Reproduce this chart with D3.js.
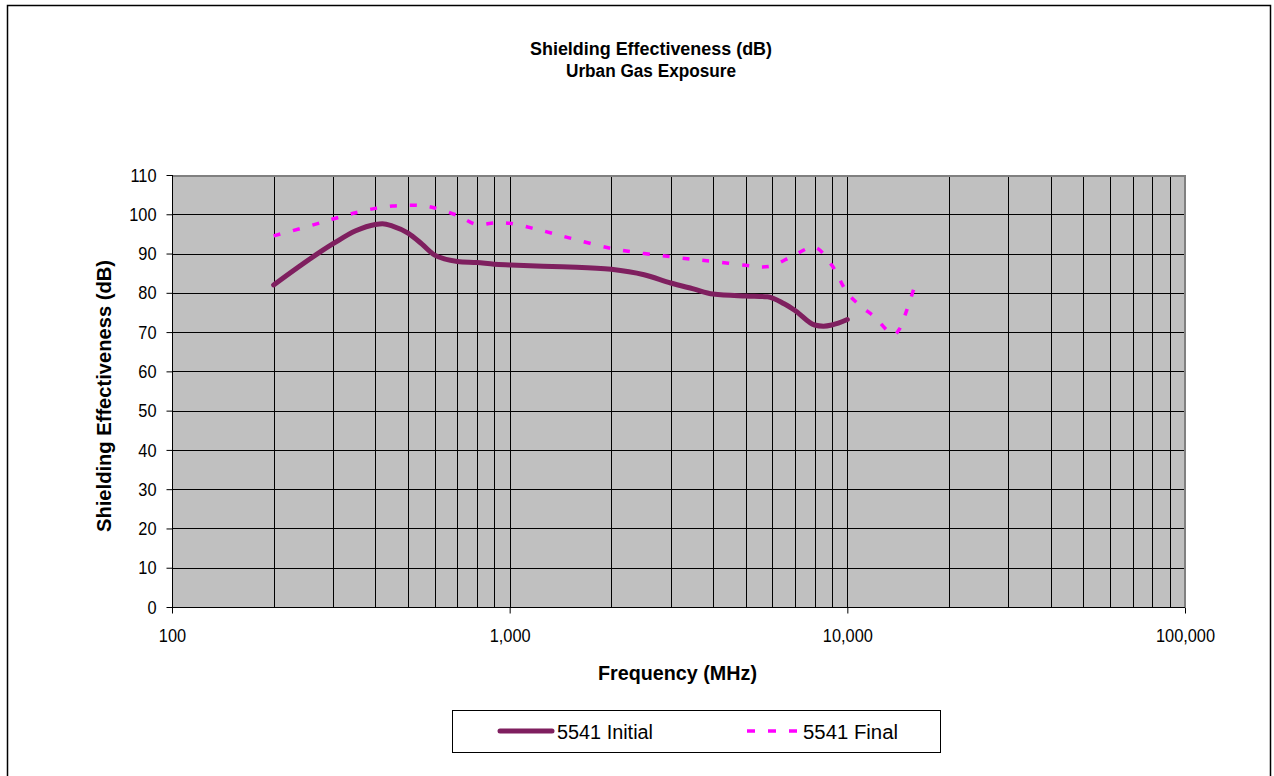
<!DOCTYPE html>
<html>
<head>
<meta charset="utf-8">
<script src="https://cdn.jsdelivr.net/npm/d3@7"></script>
<style>
  html, body { margin: 0; padding: 0; background: #fff; }
  svg { display: block; }
  text { font-family: "Liberation Sans", Arial, sans-serif; fill: #000; }
</style>
</head>
<body>
<svg id="chart" width="1274" height="776"></svg>
<script>
// Frequencies (MHz) and shielding effectiveness (dB) for each sample
const initialFreq = [200, 300, 350, 400, 420, 450, 500, 550, 600, 700, 800, 900, 1000, 1200, 1500, 2000, 2500, 3000, 3500, 4000, 5000, 5800, 6500, 7000, 8000, 8500, 9000, 10000];
const initialSE   = [82.0, 92.5, 95.8, 97.4, 97.6, 97.0, 95.2, 92.4, 89.6, 88.0, 87.7, 87.3, 87.1, 86.8, 86.6, 86.0, 84.6, 82.5, 81.0, 79.7, 79.2, 79.0, 77.2, 75.5, 71.8, 71.5, 71.8, 73.2];

const finalFreq = [200, 250, 300, 350, 400, 450, 500, 550, 600, 700, 800, 900, 1000, 1200, 1500, 2000, 2500, 3000, 3500, 4000, 5000, 5500, 6000, 7000, 8000, 9000, 10000, 11000, 12000, 13700, 14200, 15000, 15800];
const finalSE   = [94.5, 96.8, 98.8, 100.4, 101.5, 102.1, 102.3, 102.2, 101.6, 99.7, 97.4, 97.8, 97.7, 96.2, 94.0, 91.3, 90.0, 89.2, 88.5, 88.0, 87.0, 86.6, 86.9, 89.7, 91.6, 87.0, 80.0, 76.5, 74.0, 69.3, 70.5, 75.6, 81.5];

const xTickValues = [100, 1000, 10000, 100000];
const yTickValues = [0, 10, 20, 30, 40, 50, 60, 70, 80, 90, 100, 110];

const chartTitle = ["Shielding Effectiveness (dB)", "Urban Gas Exposure"];
const xTitle = "Frequency (MHz)";
const yTitle = "Shielding Effectiveness (dB)";
const seriesNames = ["5541 Initial", "5541 Final"];

const svg = d3.select("#chart");
const plot = { left: 172, top: 175, width: 1013, height: 432 };

// condense a text element horizontally to a fixed width
function fitWidth(sel, width) {
  sel.attr("textLength", width).attr("lengthAdjust", "spacingAndGlyphs");
}
// condense text elements by a factor of their natural width
function squeeze(sel, factor) {
  sel.each(function () {
    const w = this.getComputedTextLength();
    d3.select(this).attr("textLength", w * factor).attr("lengthAdjust", "spacingAndGlyphs");
  });
}

// outer frame
svg.append("rect")
  .attr("x", 7.5).attr("y", 5.5)
  .attr("width", 1263).attr("height", 775)
  .attr("fill", "#fff").attr("stroke", "#000").attr("stroke-width", 1.5);

const x = d3.scaleLog().domain([100, 100000]).range([plot.left, plot.left + plot.width]);
const y = d3.scaleLinear().domain([0, 110]).range([plot.top + plot.height, plot.top]);

const g = svg.append("g");

// plot background
g.append("rect")
  .attr("x", plot.left).attr("y", plot.top)
  .attr("width", plot.width).attr("height", plot.height)
  .attr("fill", "#c0c0c0");

// vertical grid lines on every log step
const minorX = [];
for (let d = 100; d < 100000; d *= 10) {
  for (let k = 1; k <= 9; k++) {
    const v = d * k;
    if (v > 100 && v < 100000) minorX.push(v);
  }
}
g.selectAll("line.vgrid").data(minorX).join("line")
  .attr("class", "vgrid")
  .attr("x1", d => Math.round(x(d)) + 0.5).attr("x2", d => Math.round(x(d)) + 0.5)
  .attr("y1", plot.top).attr("y2", plot.top + plot.height)
  .attr("stroke", "#000").attr("stroke-width", 1);

// horizontal grid lines
g.selectAll("line.hgrid").data(yTickValues.filter(v => v > 0 && v < 110)).join("line")
  .attr("class", "hgrid")
  .attr("x1", plot.left).attr("x2", plot.left + plot.width)
  .attr("y1", d => Math.round(y(d)) + 0.5).attr("y2", d => Math.round(y(d)) + 0.5)
  .attr("stroke", "#000").attr("stroke-width", 1);

// plot border: grey top/right edges
g.append("path")
  .attr("d", `M${plot.left},${plot.top + 1} H${plot.left + plot.width} V${plot.top + plot.height}`)
  .attr("fill", "none").attr("stroke", "#808080").attr("stroke-width", 2);

// y axis
const yAxis = d3.axisLeft(y).tickValues(yTickValues).tickSize(6).tickPadding(10).tickFormat(d3.format("d"));
const yg = svg.append("g").attr("transform", `translate(${plot.left + 0.5},0)`).call(yAxis);
yg.select(".domain").attr("stroke", "#000").attr("d", `M0,${plot.top}V${plot.top + plot.height}`);
yg.selectAll(".tick line").attr("stroke", "#000");
yg.selectAll(".tick text").attr("font-size", 19).attr("font-family", null).attr("fill", "#000");
squeeze(yg.selectAll(".tick text"), 0.86);

// x axis
const xAxis = d3.axisBottom(x).tickValues(xTickValues).tickSize(6).tickPadding(15).tickFormat(d3.format(","));
const xg = svg.append("g").attr("transform", `translate(0,${plot.top + plot.height + 0.5})`).call(xAxis);
xg.select(".domain").attr("stroke", "#000").attr("d", `M${plot.left},0H${plot.left + plot.width}`);
xg.selectAll(".tick line").attr("stroke", "#000");
xg.selectAll(".tick text").attr("font-size", 19).attr("font-family", null).attr("fill", "#000");
squeeze(xg.selectAll(".tick text"), 0.86);

// series
const smooth = d3.line().x(d => x(d[0])).y(d => y(d[1])).curve(d3.curveMonotoneX);
const initialData = initialFreq.map((f, i) => [f, initialSE[i]]);
const finalData = finalFreq.map((f, i) => [f, finalSE[i]]);

svg.append("path").datum(initialData)
  .attr("d", smooth).attr("fill", "none")
  .attr("stroke", "#7f1f5f").attr("stroke-width", 5)
  .attr("stroke-linecap", "round").attr("stroke-linejoin", "round");

svg.append("path").datum(finalData)
  .attr("d", d3.line().x(d => x(d[0])).y(d => y(d[1])).curve(d3.curveCatmullRom.alpha(0.5)))
  .attr("fill", "none")
  .attr("stroke", "#ff00ff").attr("stroke-width", 3.5)
  .attr("stroke-dasharray", "7,13");

// titles
const titleWidths = [242, 170];
svg.selectAll("text.title").data(chartTitle).join("text")
  .attr("class", "title")
  .attr("x", 651).attr("y", (d, i) => 55 + i * 22)
  .attr("text-anchor", "middle").attr("font-weight", "bold").attr("font-size", 18)
  .text(d => d)
  .each(function (d, i) { fitWidth(d3.select(this), titleWidths[i]); });

svg.append("text")
  .attr("x", 677.5).attr("y", 680)
  .attr("text-anchor", "middle").attr("font-weight", "bold").attr("font-size", 21)
  .text(xTitle)
  .call(fitWidth, 159);

svg.append("text")
  .attr("transform", `translate(111,${396}) rotate(-90)`)
  .attr("text-anchor", "middle").attr("font-weight", "bold").attr("font-size", 21)
  .text(yTitle)
  .call(fitWidth, 272);

// legend
const lg = svg.append("g");
lg.append("rect")
  .attr("x", 452.5).attr("y", 710.5).attr("width", 488).attr("height", 42)
  .attr("fill", "#fff").attr("stroke", "#000").attr("stroke-width", 1);
lg.append("line")
  .attr("x1", 500).attr("x2", 552).attr("y1", 731).attr("y2", 731)
  .attr("stroke", "#7f1f5f").attr("stroke-width", 5).attr("stroke-linecap", "round");
lg.append("line")
  .attr("x1", 747).attr("x2", 797).attr("y1", 731).attr("y2", 731)
  .attr("stroke", "#ff00ff").attr("stroke-width", 3.5).attr("stroke-dasharray", "8,13");
const legendWidths = [96, 95];
lg.selectAll("text").data(seriesNames).join("text")
  .attr("x", (d, i) => i === 0 ? 557 : 803).attr("y", 739)
  .attr("font-size", 20).text(d => d)
  .each(function (d, i) { fitWidth(d3.select(this), legendWidths[i]); });
</script>
</body>
</html>
